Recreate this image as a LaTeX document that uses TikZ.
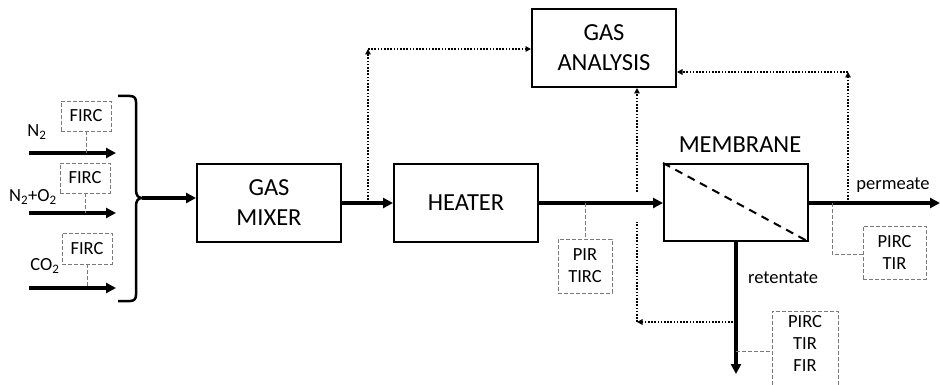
\documentclass[tikz,border=0pt]{standalone}
\usepackage{fontspec}
\setmainfont{Carlito}
\usetikzlibrary{arrows.meta}
\definecolor{dgray}{HTML}{7A7A7A}
\begin{document}
\begin{tikzpicture}[x=1pt,y=-1pt,
  unit/.style={draw,line width=2pt,minimum width=144pt,minimum height=78pt,align=center,inner sep=0pt,font=\fontsize{24.5}{30}\selectfont},
  instrbox/.style={draw=dgray,dash pattern=on 4pt off 2pt,line width=0.9pt,align=center,inner sep=0pt,font=\fontsize{18.5}{22}\selectfont},
  instrline/.style={draw=dgray,dash pattern=on 4pt off 2pt,line width=0.9pt},
  flow/.style={line width=3.2pt,-{Triangle[length=10pt,width=10pt]}},
  sig/.style={line width=2.2pt,dash pattern=on 1.6pt off 1.6pt},
  sigarr/.style={sig,-{Triangle[length=5.5pt,width=5.5pt]}},
  lbl/.style={inner sep=0pt,font=\fontsize{18.5}{22}\selectfont},
]
\useasboundingbox (0,0) rectangle (940,385);
\clip (0,0) rectangle (940,385);

% units
\node[unit] (mix) at (269,203) {GAS\\MIXER};
\node[unit] (heat) at (466,203) {HEATER};
\node[unit] (ga) at (604,48) {GAS\\ANALYSIS};
\node[unit,minimum height=77pt] (mem) at (736,202.5) {};
\node[inner sep=0pt,font=\fontsize{24.5}{29}\selectfont,anchor=base] (memlbl) at (740,153) {MEMBRANE};
\draw[line width=2pt,dash pattern=on 8pt off 6pt] (mem.north west) -- (mem.south east);

% inputs
\coordinate (i1s) at (29,153); \coordinate (i1e) at (116,153);
\coordinate (i2s) at (29,213); \coordinate (i2e) at (116,213);
\coordinate (i3s) at (29,288); \coordinate (i3e) at (116,288);
\draw[flow] (i1s) -- (i1e);
\draw[flow] (i2s) -- (i2e);
\draw[flow] (i3s) -- (i3e);
\node[lbl] (ln2) at (37,132) {N\textsubscript{2}};
\node[lbl] (ln2o2) at (33,197) {N\textsubscript{2}+O\textsubscript{2}};
\node[lbl] (lco2) at (45,266) {CO\textsubscript{2}};
\node[instrbox,minimum width=50pt,minimum height=30pt] (f1) at (86,116) {FIRC};
\node[instrbox,minimum width=50pt,minimum height=30pt] (f2) at (85,178) {FIRC};
\node[instrbox,minimum width=50pt,minimum height=31pt] (f3) at (87,248.5) {FIRC};
\draw[instrline] (f1.south) -- (f1.south |- i1s);
\draw[instrline] (f2.south) -- (f2.south |- i2s);
\draw[instrline] (f3.south) -- (f3.south |- i3s);

% brace
\coordinate (tip) at (142,198);
\draw[line width=2.5pt,line join=round] (118,96) -- (130,96) .. controls (134,96) and (136,98) .. (136,102) -- (136,190)
  .. controls (136,195) and (138,198) .. (tip) .. controls (138,198) and (136,201) .. (136,206)
  -- (136,295) .. controls (136,299) and (134,301) .. (130,301) -- (118,301);
\draw[flow] (tip) -- (tip -| mix.west);

% main flow
\draw[flow] (mix.east |- 0,203) -- (heat.west |- 0,203);
\draw[flow] (heat.east |- 0,203) -- (mem.west |- 0,203);
\coordinate (permend) at (940,203);
\draw[flow] (mem.east |- 0,203) -- (permend);
\coordinate (retend) at (736,374);
\draw[flow] (mem.south) -- (retend);
\node[lbl] (lperm) at (893,185) {permeate};
\node[lbl] (lret) at (783,278) {retentate};

% signal lines
\coordinate (s1a) at (368,203); \coordinate (s1b) at (368,49);
\draw[sigarr] (s1a) -- (s1b);
\draw[sigarr] (s1b) -- (s1b -| ga.west);
\coordinate (s2a) at (848,203); \coordinate (s2b) at (848,72);
\draw[sigarr] (s2a) -- (s2b);
\draw[sigarr] (s2b) -- (s2b -| ga.east);
\coordinate (s3a) at (736,322); \coordinate (s3b) at (637,322);
\coordinate (s3c) at (637,222); \coordinate (s3d) at (637,192);
\draw[sigarr] (s3a) -- (s3b);
\draw[sig] (s3b) -- (s3c);
\draw[sigarr] (s3d) -- (s3d |- ga.south);

% instrument boxes
\node[instrbox,minimum width=54pt,minimum height=54pt] (pt1) at (585,266) {PIR\\TIRC};
\draw[instrline] (pt1.north |- 0,203) -- (pt1.north);
\node[instrbox,minimum width=63pt,minimum height=53pt] (pt2) at (894.5,252.5) {PIRC\\TIR};
\coordinate (c2) at (832,203);
\draw[instrline] (c2) -- (c2 |- 0,254) -- (pt2.west |- 0,254);
\node[instrbox,minimum width=66pt,minimum height=80pt,anchor=north] (pt3) at (805,311) {};
\node[lbl,align=center,anchor=north] (pt3t) at (805,315) {PIRC\\TIR\\FIR};
\draw[instrline] (736,351) -- (pt3.west |- 0,351);
\end{tikzpicture}
\end{document}
